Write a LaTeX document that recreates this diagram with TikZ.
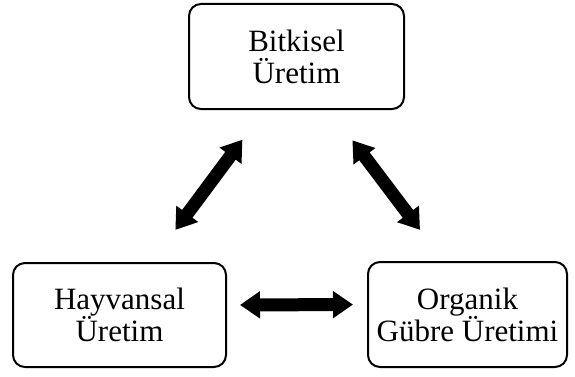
\documentclass[tikz,border=0pt]{standalone}
\usepackage{fontspec}
\setmainfont{Liberation Serif}
\usetikzlibrary{arrows.meta}

\begin{document}
\begin{tikzpicture}[x=1pt,y=1pt,
  box/.style={shape=rectangle,draw=black,rounded corners=12pt,align=center,line width=2pt,font=\fontsize{31}{32}\selectfont},
  bigarrow/.style={draw=black,line width=13pt,{Triangle[width=26pt,length=20pt]}-{Triangle[width=26pt,length=20pt]}}]
\useasboundingbox (0,0) rectangle (575,376);
\node[box,minimum width=215pt,minimum height=105pt] (0) at (296.5,319.5) {Bitkisel\\Üretim};
\node[box,minimum width=213pt,minimum height=104pt] (1) at (119.5,61) {Hayvansal\\Üretim};
\node[box,minimum width=199pt,minimum height=105pt] (2) at (467.5,61.5) {Organik\\Gübre Üretimi};

\path ([xshift=-32pt]0.south) edge [bigarrow,shorten <=37pt,shorten >=40pt] ([xshift=32pt]1.north);
\path ([xshift=33pt]0.south) edge [bigarrow,shorten <=38pt,shorten >=39pt] ([xshift=-24pt]2.north);
\path ([yshift=10pt]1.east) edge [bigarrow,shorten <=13pt,shorten >=14pt] ([yshift=10pt]2.west);
\end{tikzpicture}
\end{document}
